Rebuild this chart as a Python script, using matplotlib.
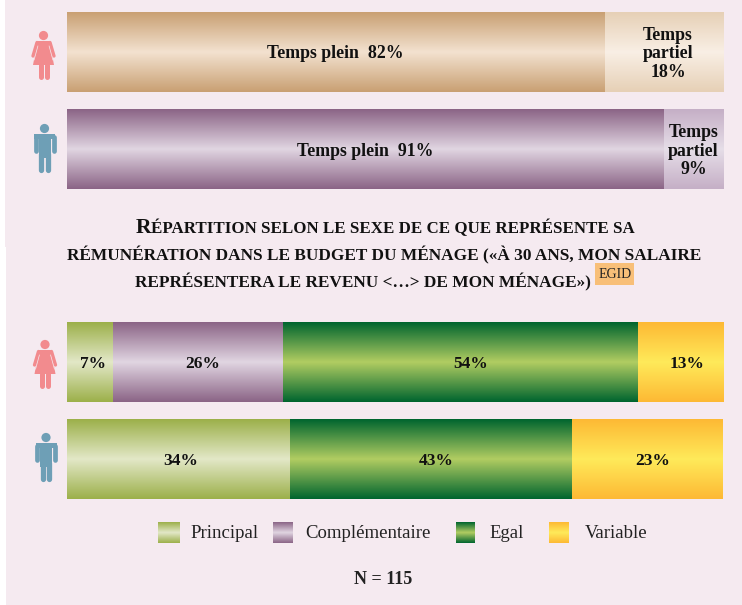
import matplotlib
matplotlib.use('Agg')
import matplotlib.pyplot as plt
import matplotlib.patches as mpatches
from matplotlib.colors import LinearSegmentedColormap
import numpy as np

# values
top_women = [82, 18]
top_men = [91, 9]
bottom_women = [7, 26, 54, 13]
bottom_men = [34, 43, 23]

top_labels_women = ['Temps plein  82%', 'Temps\npartiel\n18%']
top_labels_men = ['Temps plein  91%', 'Temps\npartiel\n9%']
bottom_labels_women = ['7%', '26%', '54%', '13%']
bottom_labels_men = ['34%', '43%', '23%']

legend_labels = ['Principal', 'Complémentaire', 'Egal', 'Variable']
note = 'N = 115'

# (edge colour, centre colour)
TAN = ('#c9a073', '#f3e2d0')
TAN_LIGHT = ('#e6d0b6', '#f9efe5')
PURPLE = ('#8b6486', '#e1d6e2')
PURPLE_LIGHT = ('#c5afc6', '#e6dee8')
GREEN_LIGHT = ('#9cb04a', '#e3e8c8')
GREEN_DARK = ('#00652f', '#b2cd62')
YELLOW = ('#fdb934', '#ffea5a')

W, H = 742, 605
BG = '#f5eaf0'
FONT = 'Liberation Serif'
HALF = 40 / 97
PX = 0.72  # points per pixel at dpi 100


def gradient(ax, x0, x1, y0, y1, cols):
    cmap = LinearSegmentedColormap.from_list('g', [cols[0], cols[1], cols[0]])
    ramp = np.linspace(0, 1, 128).reshape(-1, 1)
    ax.imshow(ramp, cmap=cmap, extent=(x0, x1, y1, y0), aspect='auto',
              interpolation='bilinear', zorder=2)


def bar_axes(top, bottom):
    ax = fig.add_axes([67 / W, 1 - bottom / H, (723 - 67) / W, (bottom - top) / H])
    ax.axis('off')
    ax.patch.set_alpha(0)
    return ax


def row_bars(ax, row, values, colors, labels, shifts, fs=12.5):
    # shifts: how far the labels sit off centre, in pixels
    left = 0
    for v, c, lab, dx in zip(values, colors, labels, shifts):
        gradient(ax, left, left + v, row - HALF, row + HALF, c)
        ax.annotate(lab, (left + v / 2, row), xytext=(dx * PX, -2 * PX),
                    textcoords='offset points', ha='center', va='center',
                    fontsize=12.8 if 'Temps' in lab else fs, fontweight='bold',
                    family=FONT, color='#111111', zorder=3, linespacing=1.08)
        left += v
    ax.set_xlim(0, 100)
    ax.set_ylim(1 + HALF, -HALF)


def person(ax, cx, top, color, woman):
    # pictogram, in pixels
    ax.add_patch(mpatches.Circle((cx, top + 4.5), 4.6, color=color, lw=0, zorder=2))
    kw = dict(color=color, zorder=2, solid_capstyle='round')
    if woman:
        ax.add_patch(mpatches.Polygon(
            [(cx - 6, top + 10), (cx + 6, top + 10), (cx + 10.5, top + 34),
             (cx - 10.5, top + 34)], color=color, lw=0, zorder=2))
        ax.plot([cx - 6.5, cx - 10.5], [top + 11.5, top + 25], lw=2.4, **kw)
        ax.plot([cx + 6.5, cx + 10.5], [top + 11.5, top + 25], lw=2.4, **kw)
        # thin slit between arms and dress
        ax.plot([cx - 5.6, cx - 9.4], [top + 15, top + 29], lw=0.5, color=BG, zorder=2)
        ax.plot([cx + 5.6, cx + 9.4], [top + 15, top + 29], lw=0.5, color=BG, zorder=2)
        ax.plot([cx - 3, cx - 3], [top + 34, top + 46], lw=3.6, **kw)
        ax.plot([cx + 3, cx + 3], [top + 34, top + 46], lw=3.6, **kw)
    else:
        ax.add_patch(mpatches.Rectangle((cx - 6, top + 11), 12, 23, color=color, lw=0, zorder=2))
        ax.plot([cx - 9, cx - 9], [top + 13, top + 27], lw=3.4, **kw)
        ax.plot([cx + 9, cx + 9], [top + 13, top + 27], lw=3.4, **kw)
        ax.plot([cx - 3.2, cx - 3.2], [top + 30, top + 46], lw=3.8, **kw)
        ax.plot([cx + 3.2, cx + 3.2], [top + 30, top + 46], lw=3.8, **kw)
        ax.add_patch(mpatches.Rectangle((cx - 10.5, top + 10), 21, 4.5, color=color, lw=0, zorder=2))


fig = plt.figure(figsize=(W / 100, H / 100), dpi=100, facecolor='white')

# page layer in pixel coordinates
page = fig.add_axes([0, 0, 1, 1])
page.axis('off')
page.add_patch(mpatches.Rectangle((5, 0), W - 5, 247, color=BG, lw=0, zorder=0))
page.add_patch(mpatches.Rectangle((6, 247), W - 6, H - 247, color=BG, lw=0, zorder=0))

person(page, 43.5, 31, '#f28b8e', True)
person(page, 44.5, 124, '#6e9fb6', False)
person(page, 45, 340, '#f28b8e', True)
person(page, 46, 433, '#6e9fb6', False)

ax1 = bar_axes(12, 189)
ax2 = bar_axes(322, 499)
row_bars(ax1, 0, top_women, [TAN, TAN_LIGHT], top_labels_women, [-1, 4])
row_bars(ax1, 1, top_men, [PURPLE, PURPLE_LIGHT], top_labels_men, [0, 0])
row_bars(ax2, 0, bottom_women, [GREEN_LIGHT, PURPLE, GREEN_DARK, YELLOW], bottom_labels_women, [3, 4, 10.5, 7])
row_bars(ax2, 1, bottom_men, [GREEN_LIGHT, GREEN_DARK, YELLOW], bottom_labels_men, [2, 5, 5])

# title, small caps faked with two sizes
tkw = dict(family=FONT, fontweight='bold', color='#111111', va='baseline', zorder=3)
page.text(136, 233, 'R', fontsize=15.5, ha='left', **tkw)
page.text(151, 233, 'ÉPARTITION SELON LE SEXE DE CE QUE REPRÉSENTE SA', fontsize=12.2, ha='left', **tkw)
page.text(384, 260, 'RÉMUNÉRATION DANS LE BUDGET DU MÉNAGE («À 30 ANS, MON SALAIRE',
          fontsize=12.4, ha='center', **tkw)
page.text(135, 287, 'REPRÉSENTERA LE REVENU <…> DE MON MÉNAGE»)', fontsize=12.4, ha='left', **tkw)
page.add_patch(mpatches.Rectangle((595, 263), 39, 22, color='#f8bf78', lw=0, zorder=2))
page.text(615, 274.5, 'EGID', fontsize=10, ha='center', va='center', family=FONT, color='#222222', zorder=3)

# legend
swatches = [(158, 180, GREEN_LIGHT), (273, 293, PURPLE), (456, 475, GREEN_DARK), (549, 569, YELLOW)]
legend_x = [190, 305, 489, 585]
for (x0, x1, c), lx, lab in zip(swatches, legend_x, legend_labels):
    gradient(page, x0, x1, 522, 543, c)
    page.text(lx, 533.5, lab, fontsize=13.5, family=FONT, color='#222222', ha='left', va='center', zorder=3)
page.text(383, 579, note, fontsize=13, fontweight='bold', family=FONT, color='#222222',
          ha='center', va='center', zorder=3)
page.set_xlim(0, W)
page.set_ylim(H, 0)

fig.savefig('out.png', dpi=100, facecolor='white')
